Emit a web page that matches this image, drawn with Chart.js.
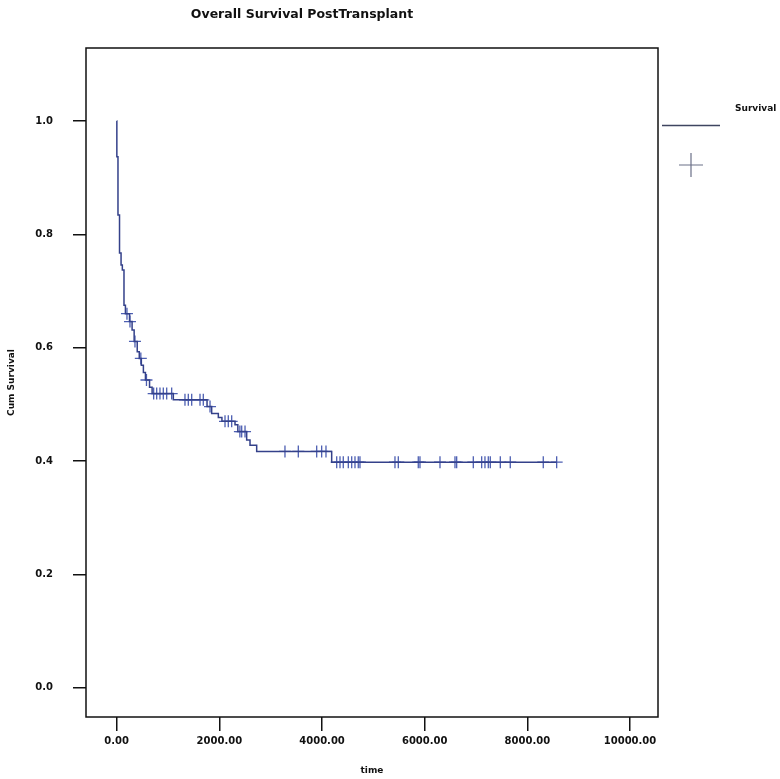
<!DOCTYPE html>
<html>
<head>
<meta charset="utf-8">
<script src="https://cdn.jsdelivr.net/npm/chart.js@4.4.1/dist/chart.umd.min.js"></script>
<style>
  html, body { margin: 0; padding: 0; background: #ffffff; }
  #grafico { display: block; }
</style>
</head>
<body>
<canvas id="grafico" width="780" height="779"></canvas>
<script>
const tiemposEvento = [0, 3, 25, 55, 85, 110, 142, 170, 250, 300, 340, 400, 440, 480, 520, 560, 640, 690,
    1103, 1760, 1850, 1980, 2050, 2305, 2360, 2532, 2597, 2727, 4188, 8571];
const supervivenciaEvento = [1.0, 0.937, 0.834, 0.767, 0.746, 0.737, 0.675, 0.660, 0.646, 0.631, 0.611, 0.593, 0.581, 0.569, 0.556, 0.543, 0.530, 0.519,
    0.508, 0.496, 0.484, 0.477, 0.470, 0.464, 0.452, 0.437, 0.428, 0.417, 0.398, 0.398];

// Casos censurados (marcas +)
const tiemposCensura = [200, 259, 356, 470, 580, 720, 779, 843, 908, 974, 1071, 1330, 1395, 1461, 1623, 1687, 1818,
    2110, 2174, 2240, 2400, 2435, 2500, 3278, 3538, 3896, 3993, 4077,
    4286, 4350, 4414, 4512, 4578, 4642, 4706, 4739, 5421, 5486, 5875, 5908, 6298, 6590, 6623,
    6947, 7110, 7174, 7239, 7278, 7473, 7667, 8310, 8571];
const supervivenciaCensura = [0.660, 0.646, 0.611, 0.581, 0.543, 0.519, 0.519, 0.519, 0.519, 0.519, 0.519, 0.508, 0.508, 0.508, 0.508, 0.508, 0.496,
    0.470, 0.470, 0.470, 0.452, 0.452, 0.452, 0.417, 0.417, 0.417, 0.417, 0.417,
    0.398, 0.398, 0.398, 0.398, 0.398, 0.398, 0.398, 0.398, 0.398, 0.398, 0.398, 0.398, 0.398, 0.398, 0.398,
    0.398, 0.398, 0.398, 0.398, 0.398, 0.398, 0.398, 0.398, 0.398];

// Marcas de los ejes
const ticksX = [0, 2000, 4000, 6000, 8000, 10000];
const ticksY = [0.0, 0.2, 0.4, 0.6, 0.8, 1.0];

const fuente = 'DejaVu Sans';
const colorLinea = '#34418a';
const colorCruz = '#4d5fb2';

// Marco, titulo y leyenda dibujados a mano
const pluginMarco = {
    id: 'marco',
    afterDraw(chart) {
        const ctx = chart.ctx;
        const a = chart.chartArea;
        ctx.save();
        ctx.strokeStyle = '#111111';
        ctx.lineWidth = 1.5;
        ctx.strokeRect(a.left, a.top, a.right - a.left, a.bottom - a.top);

        // titulo
        ctx.fillStyle = '#111111';
        ctx.font = 'bold 12.5px "' + fuente + '"';
        ctx.textAlign = 'center';
        ctx.textBaseline = 'middle';
        ctx.fillText('Overall Survival PostTransplant', 302, 15);

        // leyenda
        ctx.textAlign = 'left';
        ctx.font = 'bold 9px "' + fuente + '"';
        ctx.fillText('Survival', 735, 109);
        ctx.strokeStyle = '#3f4560';
        ctx.lineWidth = 1.3;
        ctx.beginPath();
        ctx.moveTo(662, 125.5);
        ctx.lineTo(720, 125.5);
        ctx.stroke();
        ctx.strokeStyle = '#6b7088';
        ctx.lineWidth = 1.2;
        ctx.beginPath();
        ctx.moveTo(679, 165);
        ctx.lineTo(703, 165);
        ctx.moveTo(691, 153);
        ctx.lineTo(691, 177);
        ctx.stroke();
        ctx.restore();
    }
};

function crearGrafico() {
    const puntosCurva = tiemposEvento.map((t, i) => ({ x: t, y: supervivenciaEvento[i] }));
    const puntosCensura = tiemposCensura.map((t, i) => ({ x: t, y: supervivenciaCensura[i] }));

    const ctx = document.getElementById('grafico').getContext('2d');
    new Chart(ctx, {
        type: 'line',
        data: {
            datasets: [{
                label: 'Survival',
                data: puntosCurva,
                stepped: true,
                borderColor: colorLinea,
                borderWidth: 1.5,
                pointRadius: 0,
                fill: false
            }, {
                label: 'Censored',
                type: 'scatter',
                data: puntosCensura,
                pointStyle: 'cross',
                pointRadius: 6,
                borderColor: colorCruz,
                borderWidth: 1.3,
                showLine: false
            }]
        },
        options: {
            responsive: false,
            animation: false,
            devicePixelRatio: 1,
            layout: {
                padding: { left: 0, right: 122, top: 48, bottom: 0 }
            },
            plugins: {
                legend: { display: false },
                tooltip: { enabled: false },
                title: { display: false }
            },
            scales: {
                x: {
                    type: 'linear',
                    min: -598,
                    max: 10545,
                    afterBuildTicks: scale => { scale.ticks = ticksX.map(v => ({ value: v })); },
                    afterFit: scale => { scale.height = 62; },
                    grid: {
                        drawOnChartArea: false,
                        drawTicks: true,
                        tickLength: 14,
                        color: '#111111',
                        lineWidth: 1.5
                    },
                    border: { display: false },
                    ticks: {
                        padding: 4,
                        color: '#111111',
                        font: { family: fuente, size: 10, weight: 'bold' },
                        maxRotation: 0,
                        callback: v => Number(v).toFixed(2)
                    },
                    title: {
                        display: true,
                        text: 'time',
                        color: '#111111',
                        font: { family: fuente, size: 9, weight: 'bold' },
                        padding: { top: 0, bottom: 3 }
                    }
                },
                y: {
                    type: 'linear',
                    min: -0.0517,
                    max: 1.1288,
                    afterBuildTicks: scale => { scale.ticks = ticksY.map(v => ({ value: v })); },
                    afterFit: scale => { scale.width = 86; },
                    grid: {
                        drawOnChartArea: false,
                        drawTicks: true,
                        tickLength: 13,
                        color: '#111111',
                        lineWidth: 1.5
                    },
                    border: { display: false },
                    ticks: {
                        padding: 20,
                        color: '#111111',
                        font: { family: fuente, size: 10, weight: 'bold' },
                        callback: v => Number(v).toFixed(1)
                    },
                    title: {
                        display: true,
                        text: 'Cum Survival',
                        color: '#111111',
                        font: { family: fuente, size: 9, weight: 'bold' },
                        padding: { top: 6, bottom: 0 }
                    }
                }
            }
        },
        plugins: [pluginMarco]
    });
}

document.addEventListener('DOMContentLoaded', function () {
    crearGrafico();
});
</script>
</body>
</html>
